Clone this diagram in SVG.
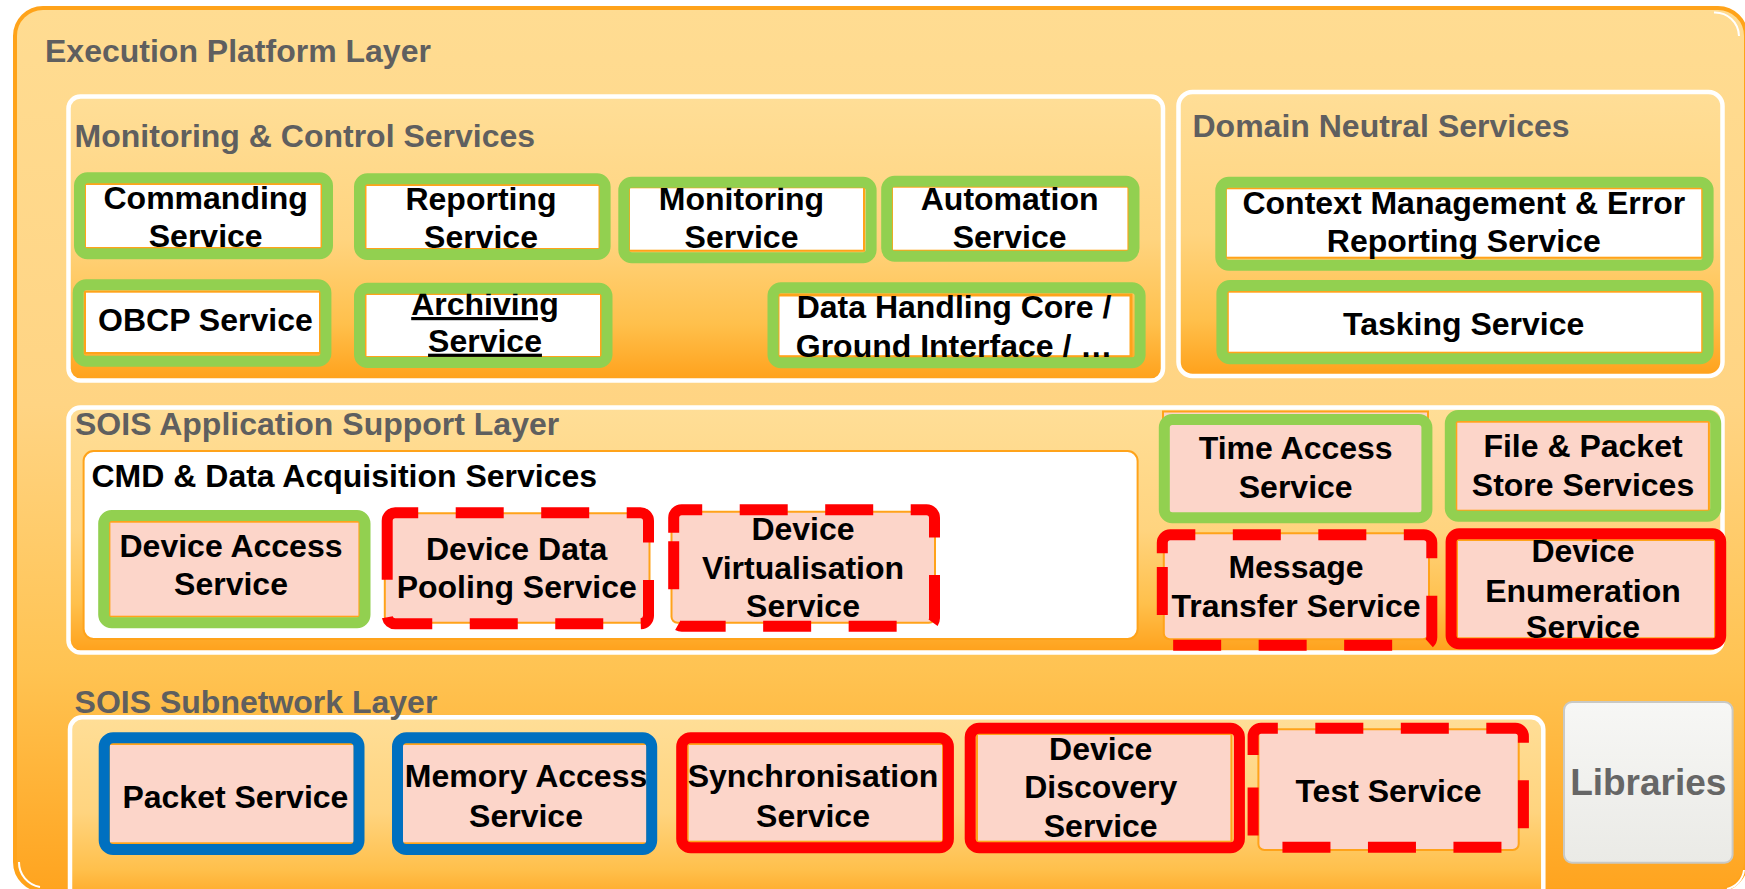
<svg xmlns="http://www.w3.org/2000/svg" width="1745" height="889" viewBox="0 0 1745 889">
<defs>
<linearGradient id="gOuter" x1="0" y1="0" x2="0" y2="1">
<stop offset="0" stop-color="#FFDC92"/><stop offset="0.45" stop-color="#FFD483"/><stop offset="0.75" stop-color="#FFC352"/><stop offset="1" stop-color="#FFA41F"/>
</linearGradient>
<linearGradient id="gInner" x1="0" y1="0" x2="0" y2="1">
<stop offset="0" stop-color="#FFDE97"/><stop offset="0.5" stop-color="#FFD47F"/><stop offset="0.8" stop-color="#FFC04C"/><stop offset="1" stop-color="#FFA11B"/>
</linearGradient>
<linearGradient id="gLib" x1="0" y1="0" x2="0" y2="1">
<stop offset="0" stop-color="#F7F7F5"/><stop offset="1" stop-color="#EAEAE6"/>
</linearGradient>
<style>
text{font-family:"Liberation Sans",Arial,Helvetica,sans-serif;font-weight:bold}
.h{font-size:32px;fill:#5F5F5F}
.t{font-size:32px;fill:#000;text-anchor:middle}
.cont{fill:url(#gInner);stroke:#FFFFFF;stroke-width:4.5}
.inW{fill:#FFFFFF;stroke:#FFA31A;stroke-width:2}
.inP{fill:#FCD5C9;stroke:#FFA31A;stroke-width:2}
.g{fill:none;stroke:#92D050;stroke-width:11}
.r{fill:none;stroke:#FF0000;stroke-width:11}
.b{fill:none;stroke:#0070C0;stroke-width:11}
.rd{fill:none;stroke:#FF0000;stroke-width:11;stroke-dasharray:48 37.5;stroke-linecap:butt}
.hl{fill:none;stroke:#FFFFFF;stroke-width:2}
</style>
</defs>

<g id="execution-platform-layer">
<rect x="15" y="8" width="1731" height="882" rx="28" fill="url(#gOuter)" stroke="#FFA31A" stroke-width="4"/>
<path class="hl" d="M1714,12.5 A24,24 0 0 1 1739,36"/>
<path class="hl" d="M19,862 A25,25 0 0 0 40,887"/>
<path class="hl" d="M1744,870 A22,22 0 0 1 1727,889"/>
<text class="h" x="45" y="61.7">Execution Platform Layer</text>
</g>

<g id="monitoring-control-services">
<rect class="cont" x="68.5" y="96.5" width="1094.5" height="284" rx="12"/>
<text class="h" x="74.6" y="146.7">Monitoring &amp; Control Services</text>
</g>

<g id="domain-neutral-services">
<rect class="cont" x="1178.5" y="92" width="544" height="284" rx="14"/>
<text class="h" x="1192.5" y="137.3">Domain Neutral Services</text>
</g>

<g id="sois-application-support-layer">
<rect class="cont" x="68.5" y="407.5" width="1654" height="245" rx="12"/>
<text class="h" x="75" y="435">SOIS Application Support Layer</text>
</g>

<g id="cmd-data-acquisition-services">
<rect x="83.6" y="451" width="1054" height="188" rx="10" fill="#FFFFFF" stroke="#FFA31A" stroke-width="2"/>
<text x="91.5" y="486.7" font-size="32" fill="#000">CMD &amp; Data Acquisition Services</text>
</g>

<g id="sois-subnetwork-layer">
<rect class="cont" x="70" y="717.3" width="1473.3" height="190" rx="12"/>
<text class="h" x="74.6" y="713.3">SOIS Subnetwork Layer</text>
</g>

<!-- Monitoring & Control nodes -->
<g id="commanding-service">
<rect class="inW" x="85" y="184" width="236.5" height="64"/>
<text class="t" x="205.7" y="209">Commanding</text>
<text class="t" x="205.7" y="247">Service</text>
<rect class="g" x="79.5" y="177.8" width="248" height="76" rx="8"/>
</g>
<g id="reporting-service">
<rect class="inW" x="365.5" y="185" width="234" height="64"/>
<text class="t" x="481" y="209.5">Reporting</text>
<text class="t" x="481" y="248">Service</text>
<rect class="g" x="359.5" y="178.8" width="245.6" height="75.7" rx="8"/>
</g>
<g id="monitoring-service">
<rect class="inW" x="629" y="187.3" width="235" height="63.4"/>
<text class="t" x="741.5" y="210">Monitoring</text>
<text class="t" x="741.5" y="248.3">Service</text>
<rect class="g" x="623.8" y="182.2" width="247.3" height="75.6" rx="8"/>
</g>
<g id="automation-service">
<rect class="inW" x="892" y="186.7" width="236.4" height="64"/>
<text class="t" x="1009.6" y="210">Automation</text>
<text class="t" x="1009.6" y="248.3">Service</text>
<rect class="g" x="886.7" y="181.2" width="247.3" height="75" rx="8"/>
</g>
<g id="obcp-service">
<rect class="inW" x="85" y="291.7" width="235" height="61.3"/>
<text class="t" x="205.4" y="331">OBCP Service</text>
<rect class="g" x="78.2" y="284.8" width="247.7" height="76.4" rx="8"/>
</g>
<g id="archiving-service">
<rect class="inW" x="365.5" y="294" width="235.5" height="63"/>
<text class="t" x="485" y="315" text-decoration="underline">Archiving</text>
<text class="t" x="485" y="351.7" text-decoration="underline">Service</text>
<rect class="g" x="359.5" y="288.2" width="247.5" height="74.3" rx="8"/>
</g>
<g id="data-handling-core">
<rect x="778" y="295" width="353" height="61.7" fill="#FFFFFF" stroke="#FFA31A" stroke-width="3"/>
<text class="t" x="954" y="318.3">Data Handling Core /</text>
<text class="t" x="954" y="356.7">Ground Interface / …</text>
<rect class="g" x="773" y="287.8" width="367.1" height="75" rx="8"/>
</g>

<!-- Domain Neutral nodes -->
<g id="context-management-service">
<rect class="inW" x="1225.9" y="188.3" width="476.3" height="69.4"/>
<text class="t" x="1463.8" y="214">Context Management &amp; Error</text>
<text class="t" x="1463.8" y="251.7">Reporting Service</text>
<rect class="g" x="1220.8" y="182.2" width="487.3" height="83" rx="8"/>
</g>
<g id="tasking-service">
<rect class="inW" x="1227.8" y="291.7" width="474.4" height="61"/>
<text class="t" x="1463.7" y="335">Tasking Service</text>
<rect class="g" x="1221.9" y="285.5" width="486.2" height="73.3" rx="8"/>
</g>

<!-- SOIS Application Support nodes -->
<g id="device-access-service">
<rect class="inP" x="109.4" y="521.7" width="250" height="95"/>
<text class="t" x="231" y="556.7">Device Access</text>
<text class="t" x="231" y="595">Service</text>
<rect class="g" x="103.7" y="515.5" width="261.3" height="107.3" rx="8"/>
</g>
<g id="device-data-pooling-service">
<rect class="inP" x="384.8" y="513.3" width="264.7" height="109.4" rx="6"/>
<text class="t" x="516.7" y="560">Device Data</text>
<text class="t" x="516.7" y="598.3">Pooling Service</text>
<path class="rd" d="M387.2,533.3 V520.8 A8,8 0 0 1 395.2,512.8 H640.5 A8,8 0 0 1 648.5,520.8 V615.8 A8,8 0 0 1 640.5,623.8 H395.2 A8,8 0 0 1 387.2,615.8 Z"/>
</g>
<g id="device-virtualisation-service">
<rect class="inP" x="671.5" y="511.7" width="263.5" height="111" rx="6"/>
<text class="t" x="803" y="540">Device</text>
<text class="t" x="803" y="579.3">Virtualisation</text>
<text class="t" x="803" y="616.7">Service</text>
<path class="rd" d="M673.7,532.8 V517.8 A8,8 0 0 1 681.7,509.8 H926.5 A8,8 0 0 1 934.5,517.8 V618.2 A8,8 0 0 1 926.5,626.2 H681.7 A8,8 0 0 1 673.7,618.2 Z"/>
</g>
<g id="time-access-service">
<rect class="inP" x="1163" y="411.5" width="265" height="105"/>
<text class="t" x="1295.7" y="459.3">Time Access</text>
<text class="t" x="1295.7" y="498.3">Service</text>
<rect class="g" x="1164.3" y="419.5" width="262.6" height="98.3" rx="8"/>
</g>
<g id="file-packet-store-services">
<rect class="inP" x="1456.3" y="421.7" width="252.6" height="89"/>
<text class="t" x="1583" y="456.7">File &amp; Packet</text>
<text class="t" x="1583" y="496">Store Services</text>
<rect class="g" x="1450.3" y="415.5" width="265.4" height="100.7" rx="8"/>
</g>
<g id="message-transfer-service">
<rect class="inP" x="1163.8" y="533.3" width="265.2" height="106" rx="6"/>
<text class="t" x="1296" y="578.3">Message</text>
<text class="t" x="1296" y="616.7">Transfer Service</text>
<path class="rd" d="M1162.3,553.3 V542.8 A8,8 0 0 1 1170.3,534.8 H1423.8 A8,8 0 0 1 1431.8,542.8 V637.2 A8,8 0 0 1 1423.8,645.2 H1170.3 A8,8 0 0 1 1162.3,637.2 Z"/>
</g>
<g id="device-enumeration-service">
<rect class="inP" x="1457" y="540" width="258" height="98.3"/>
<text class="t" x="1583" y="561.7">Device</text>
<text class="t" x="1583" y="601.7">Enumeration</text>
<text class="t" x="1583" y="638.3">Service</text>
<rect class="r" x="1451.1" y="533.8" width="269.6" height="110" rx="8"/>
</g>

<!-- SOIS Subnetwork nodes -->
<g id="packet-service">
<rect class="inP" x="109" y="744" width="245.7" height="99.3"/>
<text class="t" x="235.4" y="808.3">Packet Service</text>
<rect class="b" x="104.2" y="737.8" width="254.8" height="111.7" rx="9"/>
</g>
<g id="memory-access-service">
<rect class="inP" x="401.8" y="744" width="245.7" height="99.3"/>
<text class="t" x="526" y="786.7">Memory Access</text>
<text class="t" x="526" y="826.7">Service</text>
<rect class="b" x="397.5" y="737.8" width="254.2" height="111.7" rx="9"/>
</g>
<g id="synchronisation-service">
<rect class="inP" x="687.7" y="744" width="255.3" height="97.7"/>
<text class="t" x="813" y="786.7">Synchronisation</text>
<text class="t" x="813" y="826.7">Service</text>
<rect class="r" x="681.7" y="737.8" width="266.7" height="110" rx="9"/>
</g>
<g id="device-discovery-service">
<rect class="inP" x="977" y="734" width="254.4" height="107.7"/>
<text class="t" x="1100.7" y="760">Device</text>
<text class="t" x="1100.7" y="798.3">Discovery</text>
<text class="t" x="1100.7" y="836.7">Service</text>
<rect class="r" x="970.2" y="728.2" width="269.2" height="119.6" rx="9"/>
</g>
<g id="test-service">
<rect class="inP" x="1258.4" y="729.3" width="260.3" height="120.7" rx="6"/>
<text class="t" x="1388.5" y="801.5">Test Service</text>
<path class="rd" d="M1253.1,755 V736.2 A8,8 0 0 1 1261.1,728.2 H1515.4 A8,8 0 0 1 1523.4,736.2 V839.2 A8,8 0 0 1 1515.4,847.2 H1261.1 A8,8 0 0 1 1253.1,839.2 Z"/>
</g>

<g id="libraries">
<rect x="1564" y="702" width="168.6" height="160.7" rx="8" fill="url(#gLib)" stroke="#C9C9C5" stroke-width="2"/>
<text x="1648.3" y="795" font-size="37" fill="#666666" text-anchor="middle">Libraries</text>
</g>

<g id="connectors"></g>
</svg>
